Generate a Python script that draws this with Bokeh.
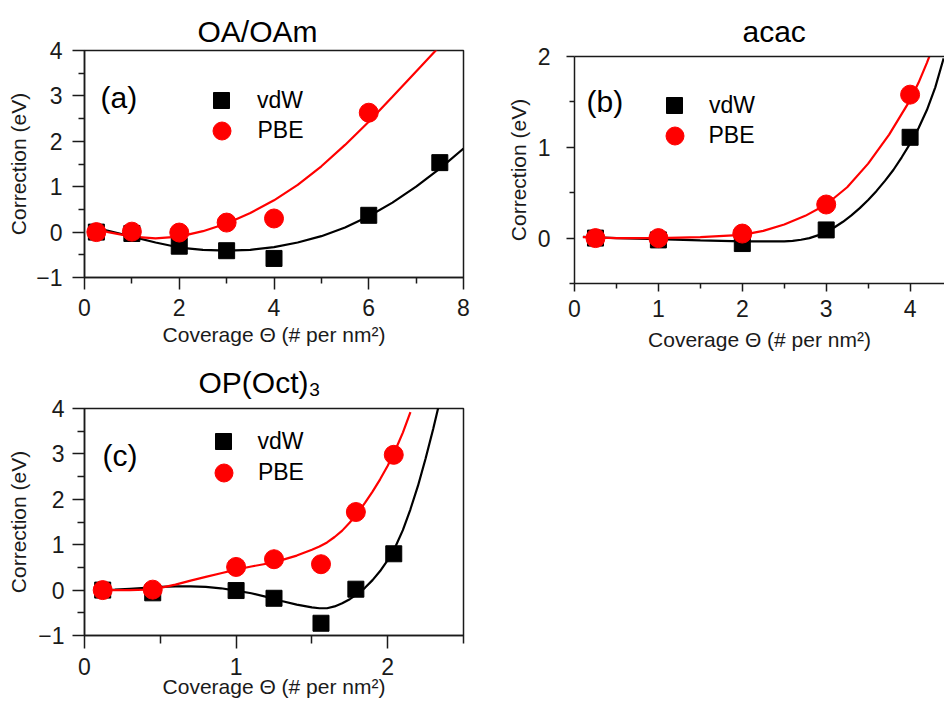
from bokeh.plotting import figure
from bokeh.models import Range1d, FixedTicker, Legend, LegendItem, Label, LinearAxis
from bokeh.layouts import column, row
from bokeh.embed import file_html
from bokeh.resources import INLINE

# ---------------- data ----------------
# (a) OA/OAm
a_vdw_x = [0.25, 1, 2, 3, 4, 6, 7.5]
a_vdw_y = [0.0, -0.03, -0.31, -0.41, -0.58, 0.37, 1.53]
a_pbe_x = [0.25, 1, 2, 3, 4, 6]
a_pbe_y = [0.0, 0.01, -0.01, 0.21, 0.30, 2.63]
a_vdw_fit_x = [0.1, 0.5, 1, 1.5, 2, 2.5, 3, 3.5, 4, 4.5, 5, 5.5, 6, 6.5, 7, 7.5, 8]
a_vdw_fit_y = [0.13, 0.03, -0.10, -0.23, -0.34, -0.39, -0.41, -0.39, -0.33, -0.23, -0.09, 0.10, 0.35, 0.65, 1.00, 1.40, 1.84]
a_pbe_fit_x = [0.1, 0.5, 1, 1.5, 2, 2.5, 3, 3.5, 4, 4.5, 5, 5.5, 6, 6.5, 7, 7.45]
a_pbe_fit_y = [0.12, 0.0, -0.10, -0.14, -0.10, 0.02, 0.19, 0.42, 0.70, 1.04, 1.45, 1.92, 2.43, 2.98, 3.54, 4.04]

# (b) acac
b_vdw_x = [0.25, 1, 2, 3, 4]
b_vdw_y = [0.0, -0.02, -0.06, 0.09, 1.11]
b_pbe_x = [0.25, 1, 2, 3, 4]
b_pbe_y = [0.0, 0.0, 0.05, 0.37, 1.58]
b_vdw_fit_x = [0.1, 0.5, 1.0, 1.5, 2.0, 2.5, 2.6, 2.7, 2.8, 2.9, 3.0, 3.1, 3.2, 3.3, 3.4, 3.5,
               3.6, 3.7, 3.8, 3.9, 4.0, 4.1, 4.2, 4.3, 4.4]
b_vdw_fit_y = [0.015, 0.0, -0.012, -0.025, -0.035, -0.035, -0.03, -0.018, 0.0, 0.03, 0.07, 0.12, 0.18,
               0.25, 0.33, 0.42, 0.52, 0.63, 0.75, 0.89, 1.04, 1.21, 1.41, 1.66, 1.98]
b_pbe_fit_x = [0.1, 0.5, 1.0, 1.5, 2.0, 2.25, 2.5, 2.75, 3.0, 3.25, 3.5, 3.75, 4.0, 4.1, 4.2, 4.25]
b_pbe_fit_y = [0.01, 0.0, 0.0, 0.01, 0.035, 0.08, 0.15, 0.245, 0.37, 0.56, 0.82, 1.14, 1.52, 1.71, 1.93, 2.05]

# (c) OP(Oct)3
c_vdw_x = [0.12, 0.45, 1.0, 1.25, 1.56, 1.79, 2.04]
c_vdw_y = [0.0, -0.06, -0.01, -0.18, -0.73, 0.02, 0.80]
c_pbe_x = [0.12, 0.45, 1.0, 1.25, 1.56, 1.79, 2.04]
c_pbe_y = [0.0, 0.01, 0.51, 0.68, 0.57, 1.72, 2.98]
c_vdw_fit_x = [0.1, 0.2, 0.3, 0.4, 0.5, 0.6, 0.7, 0.8, 0.9, 1.0, 1.1, 1.2, 1.3, 1.4, 1.5, 1.55, 1.6,
               1.65, 1.7, 1.75, 1.8, 1.85, 1.9, 1.95, 2.0, 2.05, 2.1, 2.15, 2.2, 2.25, 2.3, 2.35]
c_vdw_fit_y = [0.0, 0.01, 0.03, 0.05, 0.07, 0.08, 0.08, 0.07, 0.04, -0.01, -0.07, -0.15, -0.24, -0.32,
               -0.38, -0.40, -0.40, -0.36, -0.29, -0.20, -0.09, 0.05, 0.22, 0.42, 0.66, 0.95, 1.32,
               1.78, 2.30, 2.90, 3.55, 4.25]
c_pbe_fit_x = [0.1, 0.2, 0.3, 0.4, 0.5, 0.6, 0.7, 0.8, 0.9, 1.0, 1.1, 1.2, 1.3, 1.4, 1.5, 1.55, 1.6,
               1.65, 1.7, 1.75, 1.8, 1.85, 1.9, 1.95, 2.0, 2.05, 2.1, 2.15]
c_pbe_fit_y = [0.0, 0.0, 0.0, 0.01, 0.05, 0.12, 0.21, 0.29, 0.37, 0.45, 0.52, 0.58, 0.66, 0.76, 0.89,
               0.96, 1.05, 1.17, 1.31, 1.49, 1.69, 1.92, 2.17, 2.44, 2.74, 3.08, 3.47, 3.92]

x_label = "Coverage \u0398 (# per nm\u00b2)"
y_label = "Correction (eV)"
series_labels = ["vdW", "PBE"]

FONT = "Liberation Sans"
AXC = "#1a1a1a"
RED = "#ff0000"


def make_panel(cfg):
    p = figure(width=cfg["width"], height=cfg["height"],
               x_range=Range1d(*cfg["xr"]), y_range=Range1d(*cfg["yr"]),
               output_backend="svg", toolbar_location=None,
               min_border_left=cfg["bl"], min_border_right=cfg["br"],
               min_border_top=cfg["bt"], min_border_bottom=cfg["bb"],
               title=cfg["title"])
    p.grid.visible = False
    p.background_fill_color = "white"
    p.border_fill_color = "white"

    t = p.title
    t.text_font = FONT
    t.text_font_size = "30px"
    t.text_font_style = "normal"
    t.text_color = "black"
    t.align = "left"
    t.offset = cfg["toff"]
    t.standoff = cfg["tstand"]

    for ax, ticks, minor, tout, mout, stand, lstand, lab in (
        (p.below[0], cfg["xt"], cfg["xmt"], cfg["xtout"], cfg["xmout"], cfg["xls"], cfg["xas"], x_label),
        (p.left[0], cfg["yt"], cfg["ymt"], cfg["ytout"], cfg["ymout"], cfg["yls"], cfg["yas"], y_label),
    ):
        ax.ticker = FixedTicker(ticks=ticks, minor_ticks=minor)
        ax.axis_line_color = AXC
        ax.axis_line_width = 1.5
        ax.major_tick_line_color = AXC
        ax.minor_tick_line_color = AXC
        ax.major_tick_line_width = 1.5
        ax.minor_tick_line_width = 1.5
        ax.major_tick_in = 0
        ax.minor_tick_in = 0
        ax.major_tick_out = tout
        ax.minor_tick_out = mout
        ax.major_label_text_font = FONT
        ax.major_label_text_font_size = "23px"
        ax.major_label_text_color = AXC
        ax.major_label_standoff = stand
        ax.axis_label = lab
        ax.axis_label_text_font = FONT
        ax.axis_label_text_font_size = "21px"
        ax.axis_label_text_font_style = "normal"
        ax.axis_label_text_color = AXC
        ax.axis_label_standoff = lstand

    if cfg.get("open_right"):
        # the frame runs off the page edge: draw only its top edge
        p.outline_line_color = None
        top = LinearAxis(ticker=FixedTicker(ticks=[], minor_ticks=[]),
                         axis_line_color=AXC, axis_line_width=1.5,
                         major_tick_out=0, major_tick_in=0,
                         minor_tick_out=0, minor_tick_in=0,
                         major_label_standoff=0, axis_label_standoff=0)
        p.add_layout(top, "above")
    else:
        p.outline_line_color = AXC
        p.outline_line_width = 1.5
        p.outline_line_alpha = 1.0

    p.line(cfg["vfx"], cfg["vfy"], line_color="black", line_width=2.2)
    p.line(cfg["pfx"], cfg["pfy"], line_color=RED, line_width=2.2)
    sq = p.scatter(cfg["vx"], cfg["vy"], marker="square", size=16,
                   fill_color="black", line_color="black")
    ci = p.scatter(cfg["px"], cfg["py"], marker="circle", size=19,
                   fill_color=RED, line_color=RED)

    fh = cfg["height"] - cfg["bt"] - cfg["bb"]
    gx, gy1, gy2, lx = cfg["leg"]
    for rend, lbl, gs, gy in ((sq, series_labels[0], 40, gy1), (ci, series_labels[1], 45, gy2)):
        x0 = gx - gs / 2
        leg = Legend(items=[LegendItem(label=lbl, renderers=[rend])],
                     location=(x0, fh - (gy + gs / 2)),
                     glyph_width=gs, glyph_height=gs,
                     padding=0, margin=0, spacing=0,
                     label_standoff=int(round(lx - (x0 + gs))),
                     label_text_font=FONT, label_text_font_size="23px",
                     label_text_color="black",
                     border_line_alpha=0, background_fill_alpha=0)
        p.add_layout(leg)

    px_, py_ = cfg["tag"]
    p.add_layout(Label(x=px_, y=py_, x_units="screen", y_units="screen",
                       text=cfg["tagtext"], text_font=FONT, text_font_size="30px",
                       text_color="black", text_baseline="alphabetic"))
    return p


pa = make_panel(dict(
    width=470, height=354, bl=84, br=7, bt=50, bb=77,
    xr=(0, 8), yr=(-1, 4),
    xt=[0, 2, 4, 6, 8], xmt=[1, 3, 5, 7],
    yt=[-1, 0, 1, 2, 3, 4], ymt=[-0.5, 0.5, 1.5, 2.5, 3.5],
    xtout=12, xmout=6, ytout=12, ymout=6,
    xls=9, xas=4, yls=10, yas=3,
    title="OA/OAm", toff=113, tstand=6,
    vx=a_vdw_x, vy=a_vdw_y, px=a_pbe_x, py=a_pbe_y,
    vfx=a_vdw_fit_x, vfy=a_vdw_fit_y, pfx=a_pbe_fit_x, pfy=a_pbe_fit_y,
    leg=(137, 50, 80.7, 173), tag=(16, 180), tagtext="(a)"))

pb = make_panel(dict(
    width=474, height=706, bl=104, br=0, bt=56, bb=423,
    xr=(0, 4.41), yr=(-0.5, 2), open_right=True,
    xt=[0, 1, 2, 3, 4], xmt=[0.5, 1.5, 2.5, 3.5],
    yt=[0, 1, 2], ymt=[-0.5, 0.5, 1.5],
    xtout=8, xmout=5, ytout=8, ymout=5,
    xls=8, xas=8, yls=16, yas=5,
    title="acac", toff=168, tstand=18,
    vx=b_vdw_x, vy=b_vdw_y, px=b_pbe_x, py=b_pbe_y,
    vfx=b_vdw_fit_x, vfy=b_vdw_fit_y, pfx=b_pbe_fit_x, pfy=b_pbe_fit_y,
    leg=(100, 49.3, 79.3, 135), tag=(12, 182), tagtext="(b)"))

pc = make_panel(dict(
    width=470, height=352, bl=83, br=6, bt=54, bb=71,
    xr=(0, 2.5), yr=(-1, 4),
    xt=[0, 1, 2], xmt=[0.5, 1.5, 2.5],
    yt=[-1, 0, 1, 2, 3, 4], ymt=[-0.5, 0.5, 1.5, 2.5, 3.5],
    xtout=13, xmout=8, ytout=12, ymout=7,
    xls=9, xas=-3, yls=8, yas=5,
    title="OP(Oct)\u2083", toff=114, tstand=19,
    vx=c_vdw_x, vy=c_vdw_y, px=c_pbe_x, py=c_pbe_y,
    vfx=c_vdw_fit_x, vfy=c_vdw_fit_y, pfx=c_pbe_fit_x, pfy=c_pbe_fit_y,
    leg=(139.4, 33.4, 64.4, 173.4), tag=(18, 180), tagtext="(c)"))

layout = row(column(pa, pc), pb)
open("out.html", "w").write(file_html(layout, INLINE))
